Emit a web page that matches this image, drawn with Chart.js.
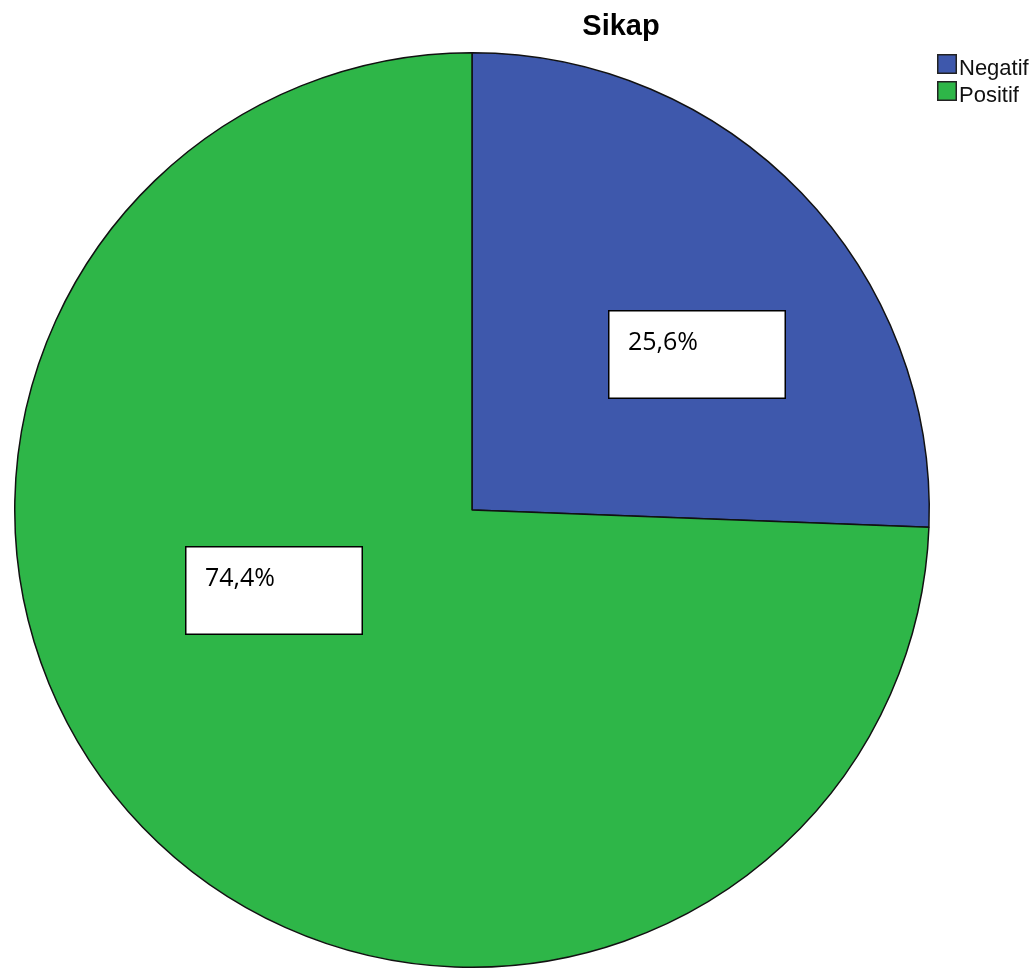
<!DOCTYPE html>
<html>
<head>
<meta charset="utf-8">
<title>Sikap</title>
<script src="https://cdn.jsdelivr.net/npm/chart.js@4.4.1/dist/chart.umd.min.js"></script>
<style>
    html, body { margin: 0; padding: 0; background: #fff; }
    #wrap { width: 1036px; height: 969px; }
</style>
</head>
<body>
<div id="wrap"><canvas id="pieChart" width="1036" height="969"></canvas></div>
<script>
// 数据
const chartTitle = 'Sikap';
const categories = ['Negatif', 'Positif'];
const percentValues = [25.6, 74.4];
const sliceColors = ['#3e58ac', '#2eb648'];

// 标签框相对扇区中心点的偏移
const labelOffset = [[-29, -41], [-122, -123]];

// 标题
const titlePlugin = {
    id: 'sikapTitle',
    afterDraw(chart) {
        const ctx = chart.ctx;
        ctx.save();
        ctx.font = 'bold 29px "Liberation Sans", Arial, sans-serif';
        ctx.fillStyle = '#000';
        ctx.textAlign = 'center';
        ctx.textBaseline = 'alphabetic';
        ctx.fillText(chartTitle, 621, 35);
        ctx.restore();
    }
};

// 右上角图例
const legendPlugin = {
    id: 'sikapLegend',
    afterDraw(chart) {
        const ctx = chart.ctx;
        const ds = chart.data.datasets[0];
        ctx.save();
        ctx.font = '22px "Liberation Sans", Arial, sans-serif';
        ctx.textBaseline = 'alphabetic';
        chart.data.labels.forEach((label, i) => {
            const y = 54 + i * 27;
            ctx.fillStyle = ds.backgroundColor[i];
            ctx.fillRect(937, y, 20, 20);
            ctx.strokeStyle = '#222';
            ctx.lineWidth = 1.5;
            ctx.strokeRect(937.75, y + 0.75, 18.5, 18.5);
            ctx.fillStyle = '#111';
            ctx.fillText(label, 959, y + 21);
        });
        ctx.restore();
    }
};

// 百分比标签框
const boxLabelPlugin = {
    id: 'boxLabels',
    afterDatasetsDraw(chart) {
        const ctx = chart.ctx;
        const arcs = chart.getDatasetMeta(0).data;
        const values = chart.data.datasets[0].data;
        ctx.save();
        arcs.forEach((arc, i) => {
            const c = arc.getCenterPoint();
            const x = Math.round(c.x + labelOffset[i][0]);
            const y = Math.round(c.y + labelOffset[i][1]);
            ctx.fillStyle = '#fff';
            ctx.fillRect(x, y, 178, 89);
            ctx.strokeStyle = '#000';
            ctx.lineWidth = 1.5;
            ctx.strokeRect(x + 0.75, y + 0.75, 176.5, 87.5);
            ctx.fillStyle = '#000';
            ctx.font = '25px "Open Sans", sans-serif';
            ctx.textBaseline = 'alphabetic';
            ctx.fillText(values[i].toFixed(1).replace('.', ',') + '%', x + 20, y + 40);
        });
        ctx.restore();
    }
};

const ctx = document.getElementById('pieChart').getContext('2d');
new Chart(ctx, {
    type: 'pie',
    data: {
        labels: categories,
        datasets: [{
            data: percentValues,
            backgroundColor: sliceColors,
            borderColor: '#111',
            borderWidth: 1.5
        }]
    },
    options: {
        responsive: false,
        animation: false,
        layout: {
            padding: { left: 14, top: 52, right: 106, bottom: 1 }
        },
        plugins: {
            legend: { display: false },
            title: { display: false },
            tooltip: { enabled: false }
        }
    },
    plugins: [titlePlugin, legendPlugin, boxLabelPlugin]
});
</script>
</body>
</html>
